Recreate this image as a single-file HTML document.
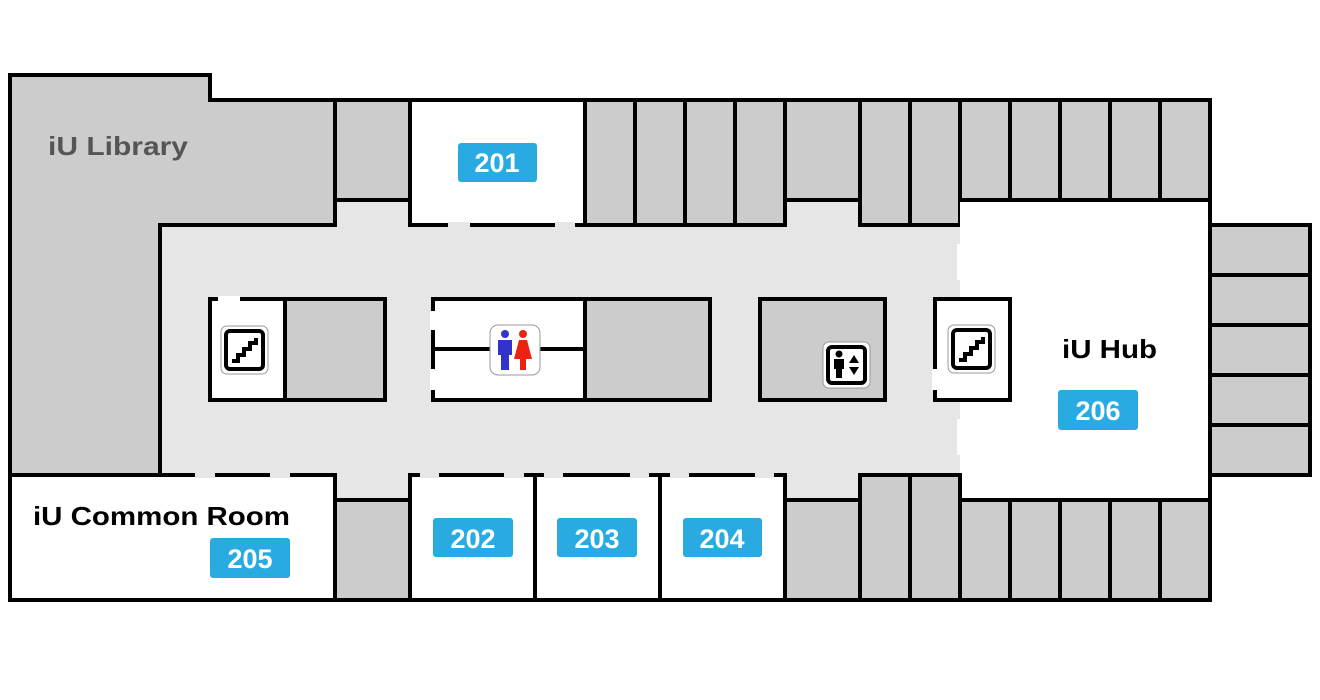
<!DOCTYPE html>
<html><head><meta charset="utf-8"><style>
html,body{margin:0;padding:0;background:#fff;width:1320px;height:700px;overflow:hidden}
svg{display:block}
.t{font-family:"Liberation Sans",sans-serif;font-weight:bold}
</style></head><body>
<svg width="1320" height="700" viewBox="0 0 1320 700" xmlns="http://www.w3.org/2000/svg">
<defs>
<g id="stair">
<rect x="0" y="0" width="47" height="48" rx="6" fill="#fff" stroke="#999" stroke-width="1"/>
<rect x="5" y="5" width="37" height="38" rx="4" fill="#fff" stroke="#000" stroke-width="4"/>
<polyline points="11,35 17,35 17,29 23,29 23,23 29,23 29,17 35,17 35,12" fill="none" stroke="#000" stroke-width="4"/>
</g>
</defs>
<g stroke="#000" stroke-width="4">
<rect x="160" y="225" width="800" height="250" fill="#e6e6e6" stroke="none"/>
<rect x="335" y="198" width="75" height="30" fill="#e6e6e6" stroke="none"/>
<rect x="785" y="198" width="75" height="30" fill="#e6e6e6" stroke="none"/>
<rect x="335" y="472" width="75" height="30" fill="#e6e6e6" stroke="none"/>
<rect x="785" y="472" width="75" height="30" fill="#e6e6e6" stroke="none"/>
<path d="M10 75 H210 V100 H335 V225 H160 V475 H10 Z" fill="#ccc"/>
<rect x="335" y="100" width="75" height="100" fill="#ccc"/>
<rect x="410" y="100" width="175" height="125" fill="#fff"/>
<rect x="585" y="100" width="50" height="125" fill="#ccc"/>
<rect x="635" y="100" width="50" height="125" fill="#ccc"/>
<rect x="685" y="100" width="50" height="125" fill="#ccc"/>
<rect x="735" y="100" width="50" height="125" fill="#ccc"/>
<rect x="785" y="100" width="75" height="100" fill="#ccc"/>
<rect x="860" y="100" width="50" height="125" fill="#ccc"/>
<rect x="910" y="100" width="50" height="125" fill="#ccc"/>
<rect x="960" y="100" width="50" height="100" fill="#ccc"/>
<rect x="1010" y="100" width="50" height="100" fill="#ccc"/>
<rect x="1060" y="100" width="50" height="100" fill="#ccc"/>
<rect x="1110" y="100" width="50" height="100" fill="#ccc"/>
<rect x="1160" y="100" width="50" height="100" fill="#ccc"/>
<rect x="960" y="200" width="250" height="300" fill="#fff" stroke="none"/>
<path d="M960 200 H1210 V500 H960" fill="none"/>
<rect x="1210" y="225" width="100" height="50" fill="#ccc"/>
<rect x="1210" y="275" width="100" height="50" fill="#ccc"/>
<rect x="1210" y="325" width="100" height="50" fill="#ccc"/>
<rect x="1210" y="375" width="100" height="50" fill="#ccc"/>
<rect x="1210" y="425" width="100" height="50" fill="#ccc"/>
<rect x="10" y="475" width="325" height="125" fill="#fff"/>
<rect x="335" y="500" width="75" height="100" fill="#ccc"/>
<rect x="410" y="475" width="125" height="125" fill="#fff"/>
<rect x="535" y="475" width="125" height="125" fill="#fff"/>
<rect x="660" y="475" width="125" height="125" fill="#fff"/>
<rect x="785" y="500" width="75" height="100" fill="#ccc"/>
<rect x="860" y="475" width="50" height="125" fill="#ccc"/>
<rect x="910" y="475" width="50" height="125" fill="#ccc"/>
<rect x="960" y="500" width="50" height="100" fill="#ccc"/>
<rect x="1010" y="500" width="50" height="100" fill="#ccc"/>
<rect x="1060" y="500" width="50" height="100" fill="#ccc"/>
<rect x="1110" y="500" width="50" height="100" fill="#ccc"/>
<rect x="1160" y="500" width="50" height="100" fill="#ccc"/>
<rect x="210" y="299" width="75" height="101" fill="#fff"/>
<rect x="285" y="299" width="100" height="101" fill="#ccc"/>
<rect x="585" y="299" width="125" height="101" fill="#ccc"/>
<rect x="433" y="299" width="152" height="101" fill="#fff"/>
<line x1="433" y1="349" x2="585" y2="349"/>
<rect x="760" y="299" width="125" height="101" fill="#ccc"/>
<rect x="935" y="299" width="75" height="101" fill="#fff"/>
</g>
<g fill="#fff">
<rect x="448" y="222" width="22" height="6" fill="#e6e6e6"/>
<rect x="555" y="222" width="20" height="6" fill="#e6e6e6"/>
<rect x="195" y="472" width="20" height="6" fill="#e6e6e6"/>
<rect x="270" y="472" width="20" height="6" fill="#e6e6e6"/>
<rect x="420" y="472" width="19" height="6" fill="#e6e6e6"/>
<rect x="504" y="472" width="20" height="6" fill="#e6e6e6"/>
<rect x="544" y="472" width="19" height="6" fill="#e6e6e6"/>
<rect x="630" y="472" width="19" height="6" fill="#e6e6e6"/>
<rect x="670" y="472" width="19" height="6" fill="#e6e6e6"/>
<rect x="755" y="472" width="19" height="6" fill="#e6e6e6"/>
<rect x="218" y="296" width="22" height="6"/>
<rect x="430" y="311" width="6" height="19"/>
<rect x="430" y="369" width="6" height="21"/>
<rect x="932" y="369" width="6" height="21"/>
<rect x="957" y="244" width="6" height="36"/>
<rect x="957" y="419" width="6" height="36"/>
</g>
<use href="#stair" x="221" y="326"/>
<use href="#stair" x="948" y="325"/>
<g transform="translate(823,342)">
<rect x="0" y="0" width="47" height="46" rx="6" fill="#fff" stroke="#999" stroke-width="1"/>
<rect x="5" y="5" width="37" height="36" rx="4" fill="#fff" stroke="#000" stroke-width="4"/>
<circle cx="16" cy="12" r="3.5" fill="#000"/>
<path d="M11 17 H21 V27 H19 V36 H13 V27 H11 Z" fill="#000"/>
<path d="M26 21 L31 13 L36 21 Z M26 25 L36 25 L31 33 Z" fill="#000"/>
</g>
<g transform="translate(490,325)">
<rect x="0" y="0" width="50" height="50" rx="8" fill="#fff" stroke="#999" stroke-width="1"/>
<circle cx="15" cy="9" r="4" fill="#33c"/>
<path d="M8 15 H22 V30 H19 V45 H11 V30 H8 Z" fill="#33c"/>
<circle cx="33" cy="9" r="4" fill="#e21"/>
<path d="M29 15 H37 L42 34 H36 V45 H30 V34 H24 Z" fill="#e21"/>
</g>
<g fill="#29abe2">
<rect x="458" y="143" width="79" height="39" rx="3"/>
<rect x="210" y="538" width="80" height="40" rx="3"/>
<rect x="433" y="518" width="80" height="39" rx="3"/>
<rect x="557" y="518" width="80" height="39" rx="3"/>
<rect x="683" y="518" width="79" height="39" rx="3"/>
<rect x="1058" y="390" width="80" height="40" rx="3"/>
</g>
<g class="t" fill="#fff" font-size="27" text-anchor="middle">
<text x="497" y="172">201</text>
<text x="250" y="568">205</text>
<text x="473" y="548">202</text>
<text x="597" y="548">203</text>
<text x="722" y="548">204</text>
<text x="1098" y="420">206</text>
</g>
<text class="t" x="48" y="155" font-size="26" fill="#555" textLength="140" lengthAdjust="spacingAndGlyphs">iU Library</text>
<text class="t" x="33" y="525" font-size="26" fill="#000" textLength="257" lengthAdjust="spacingAndGlyphs">iU Common Room</text>
<text class="t" x="1062" y="358" font-size="26" fill="#000" textLength="95" lengthAdjust="spacingAndGlyphs">iU Hub</text>
</svg>
</body></html>
